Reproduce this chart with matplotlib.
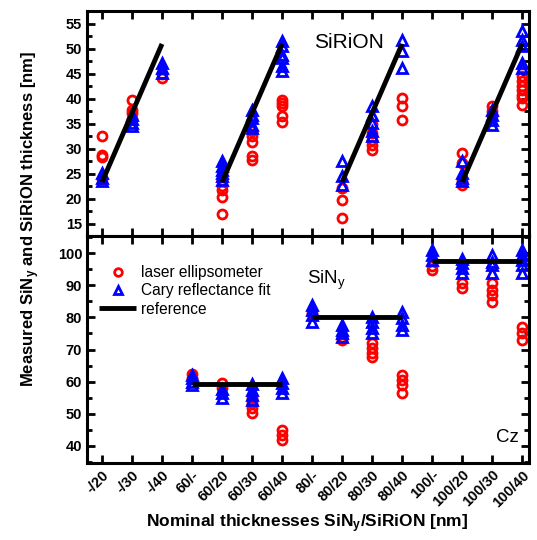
import matplotlib
matplotlib.use("Agg")
import matplotlib.pyplot as plt
import numpy as np
from matplotlib.ticker import MultipleLocator

plt.rcParams['font.family'] = ['Liberation Sans', 'DejaVu Sans']
plt.rcParams['mathtext.fontset'] = 'custom'
plt.rcParams['mathtext.rm'] = 'Liberation Sans'
plt.rcParams['mathtext.it'] = 'Liberation Sans'
plt.rcParams['mathtext.bf'] = 'Liberation Sans:bold'

#categories on the x axis
labels = ["-/20", "-/30", "-/40", "60/-", "60/20", "60/30", "60/40",
          "80/-", "80/20", "80/30", "80/40", "100/-", "100/20", "100/30", "100/40"]

#SiRiON thickness (top panel): category index -> values
sirion_ellips = {
    0: [32.5, 28.8, 28.3, 24.0],
    1: [39.8, 37.8, 37.2, 36.0],
    2: [44.1, 45.0],
    4: [23.5, 22.5, 21.8, 20.3, 17.0],
    5: [33.5, 32.5, 31.3, 28.5, 27.8],
    6: [39.8, 39.1, 38.5, 36.6, 35.3],
    8: [22.1, 19.8, 16.1],
    9: [35.0, 33.1, 31.8, 30.8, 29.8],
    10: [40.1, 38.5, 35.8],
    12: [29.1, 27.1, 23.5, 22.8],
    13: [38.5, 37.5, 36.5],
    14: [44.5, 43.5, 42.5, 41.8, 40.8, 40.1, 38.8],
}
sirion_cary = {
    0: [25.1, 24.1, 23.5],
    1: [36.8, 35.9, 35.1, 34.6],
    2: [47.1, 46.1, 45.1],
    4: [27.5, 26.5, 25.8, 25.2, 24.5, 23.8],
    5: [37.8, 36.8, 36.1, 34.8, 34.1],
    6: [51.5, 50.5, 48.8, 48.1, 46.5, 45.5],
    8: [27.5, 24.5, 22.8],
    9: [38.6, 36.8, 35.1, 33.5, 32.5],
    10: [51.8, 49.5, 46.1],
    12: [27.5, 25.1, 24.1, 23.5],
    13: [37.8, 36.8, 35.8, 34.8],
    14: [53.5, 51.8, 50.5, 47.1, 46.1],
}
sirion_ref_x = [[0, 2], [4, 6], [8, 10], [12, 14]]
sirion_ref_y = [23.3, 51.0]

#SiNy thickness (bottom panel)
siny_ellips = {
    3: [62.4, 61.0],
    4: [59.5, 58.0],
    5: [55.0, 53.3, 51.7, 50.4],
    6: [45.0, 43.4, 41.9],
    7: [81.3],
    8: [74.0, 73.0],
    9: [71.9, 70.4, 68.8, 67.8],
    10: [62.1, 60.5, 59.0, 56.4],
    11: [94.7, 96.0],
    12: [90.6, 89.0],
    13: [90.6, 88.5, 86.9, 84.9],
    14: [77.1, 75.0, 73.0],
}
siny_cary = {
    3: [62.0, 61.0, 60.0, 59.0],
    4: [57.6, 56.4, 54.8],
    5: [59.3, 57.4, 55.9, 54.3],
    6: [61.2, 59.5, 57.9, 56.4],
    7: [83.8, 82.3, 80.7, 78.6],
    8: [77.6, 76.1, 75.0, 74.0],
    9: [80.2, 78.6, 76.6, 75.0],
    10: [81.8, 79.7, 77.6, 76.1],
    11: [100.9, 99.4, 97.8],
    12: [98.3, 96.8, 95.2, 93.7],
    13: [99.4, 97.3, 96.3, 93.7],
    14: [100.9, 99.4, 97.8, 96.3, 93.7],
}
siny_ref_x = [[3, 6], [7, 10], [11, 14]]
siny_ref_y = [59.2, 80.0, 97.5]


def flatten(d):
    xs, ys = [], []
    for k in d:
        for v in d[k]:
            xs.append(k)
            ys.append(v)
    return xs, ys


def style_axis(ax):
    for s in ax.spines.values():
        s.set_linewidth(2.2)
    ax.tick_params(which='both', direction='in', top=True, right=True, width=2)
    ax.tick_params(which='major', length=6, labelsize=10.5)
    ax.tick_params(which='minor', length=3.5)
    ax.set_xlim(-0.5, 14.23)
    ax.set_xticks(np.arange(len(labels)))
    for t in ax.get_yticklabels():
        t.set_fontweight('bold')


fig = plt.figure(figsize=(5.37, 5.40), dpi=100)
ax1 = fig.add_axes([87/537, 1-236/540, 442/537, 225/540])
ax2 = fig.add_axes([87/537, 1-463/540, 442/537, 227/540])

red = dict(ls='none', marker='o', ms=6.5, mfc='none', mec='#ff0000', mew=2.0)
blue = dict(ls='none', marker='^', ms=7.5, mfc='none', mec='#0000ff', mew=2.0)

#top panel
x, y = flatten(sirion_ellips)
ax1.plot(x, y, **red)
x, y = flatten(sirion_cary)
ax1.plot(x, y, **blue)
for xr in sirion_ref_x:
    ax1.plot(xr, sirion_ref_y, color='black', lw=3.5, solid_capstyle='butt')
ax1.set_ylim(12.5, 57.6)
ax1.yaxis.set_major_locator(MultipleLocator(5))
ax1.yaxis.set_minor_locator(MultipleLocator(2.5))
style_axis(ax1)
ax1.set_xticklabels([])
ax1.text((314-87)/442, 0.86, "SiRiON", transform=ax1.transAxes, fontsize=15, ha='left', va='center')

#bottom panel
x, y = flatten(siny_ellips)
ax2.plot(x, y, label='laser ellipsometer', **red)
x, y = flatten(siny_cary)
ax2.plot(x, y, label='Cary reflectance fit', **blue)
for i, xr in enumerate(siny_ref_x):
    ax2.plot(xr, [siny_ref_y[i]] * 2, color='black', lw=3.5, solid_capstyle='butt',
             label='reference' if i == 0 else None)
ax2.set_ylim(34.7, 105.3)
ax2.yaxis.set_major_locator(MultipleLocator(10))
ax2.yaxis.set_minor_locator(MultipleLocator(5))
style_axis(ax2)
ax2.set_xticklabels(labels, rotation=45, ha='right', rotation_mode='anchor',
                    fontsize=10.5, fontweight='bold')
ax2.text((307-87)/442, 1-(280-236)/227, "SiN$_y$", transform=ax2.transAxes, fontsize=13.5, ha='left', va='center')
ax2.text((496-87)/442, 1-(437-236)/227, "Cz", transform=ax2.transAxes, fontsize=13.5, ha='left', va='center')
leg = ax2.legend(loc='upper left', bbox_to_anchor=(99/537, 1-265/540), bbox_transform=fig.transFigure,
                 frameon=False, fontsize=11.2, handlelength=2.4, handletextpad=0.3, labelspacing=0.22,
                 borderpad=0, borderaxespad=0, markerscale=0.85)

fig.text(307/537, 1-524/540, r"Nominal thicknesses SiN$_\mathbf{y}$/SiRiON [nm]", fontsize=12.5,
         fontweight='bold', ha='center', va='center')
fig.text(31/537, 1-219/540, r"Measured SiN$_\mathbf{y}$ and SiRiON thickness [nm]", fontsize=12,
         fontweight='bold', rotation=90, ha='center', va='center')

plt.savefig("out.png", dpi=100)
